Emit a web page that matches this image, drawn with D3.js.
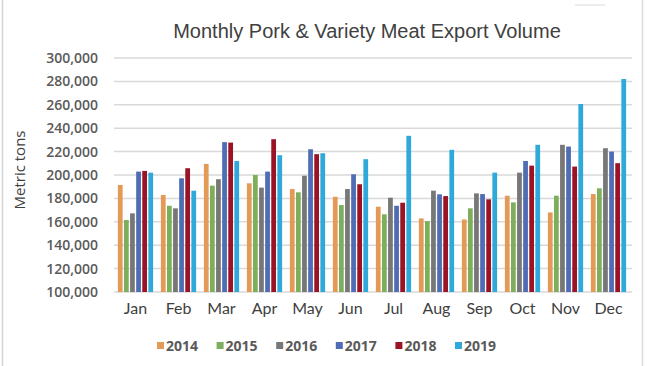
<!DOCTYPE html>
<html>
<head>
<meta charset="utf-8">
<script src="https://cdn.jsdelivr.net/npm/d3@7"></script>
<style>
  html, body { margin: 0; padding: 0; background: #fff; }
  svg { display: block; }
</style>
</head>
<body>
<svg id="chart" width="650" height="366"></svg>
<script>
const months = ["Jan","Feb","Mar","Apr","May","Jun","Jul","Aug","Sep","Oct","Nov","Dec"];
const years = ["2014","2015","2016","2017","2018","2019"];
const colors = ["#E39A57","#7DAE5C","#777777","#4F6DB4","#9A1426","#2FA9D9"];
const yTicks = [100000,120000,140000,160000,180000,200000,220000,240000,260000,280000,300000];

const v2014 = [191500,182900,209500,192900,188000,181400,172900,162900,162000,182300,168000,183700];
const v2015 = [161500,173700,190900,200000,185200,174300,166400,160600,171500,176600,182300,188600];
const v2016 = [167200,171500,196400,189200,199400,188000,180600,186600,184300,202000,225800,222900];
const v2017 = [202900,197200,228100,202900,222000,200600,173700,183500,183700,212000,224300,220000];
const v2018 = [203500,205800,227700,230600,217800,192100,176300,182000,179200,208000,207200,210100];
const v2019 = [202000,186600,212000,216900,218600,213500,233500,221500,202000,225800,260700,282100];
const series = [v2014, v2015, v2016, v2017, v2018, v2019];

const svg = d3.select("#chart");

// frame lines
svg.append("line").attr("x1",2.5).attr("x2",2.5).attr("y1",0).attr("y2",366)
  .attr("stroke","#d4d4d4").attr("stroke-width",1.5);
svg.append("line").attr("x1",642.5).attr("x2",642.5).attr("y1",0).attr("y2",366)
  .attr("stroke","#dcdcdc").attr("stroke-width",1.5);
svg.append("line").attr("x1",575).attr("x2",605).attr("y1",5).attr("y2",5)
  .attr("stroke","#e6e6e6").attr("stroke-width",1.5);

const x = d3.scaleBand().domain(months).range([114, 630]).paddingInner(0.18).paddingOuter(0.09);
const xi = d3.scaleBand().domain(years).range([0, x.bandwidth()]).paddingInner(0.22);
const y = d3.scaleLinear().domain([100000, 300000]).range([292, 58]);

// gridlines
svg.append("g").selectAll("line").data(yTicks).join("line")
  .attr("x1",114).attr("x2",632)
  .attr("y1",d=>y(d)).attr("y2",d=>y(d))
  .attr("stroke","#d9d9d9").attr("stroke-width",1.5);

// y axis labels
const yAxis = d3.axisLeft(y).tickValues(yTicks).tickSize(0).tickPadding(0)
  .tickFormat(d3.format(","));
const yg = svg.append("g").attr("transform","translate(98,0)").call(yAxis);
yg.select(".domain").remove();
yg.selectAll("text").attr("font-family","'Open Sans', sans-serif").attr("font-size","14px")
  .attr("font-weight","600").attr("fill","#5a5a5a");

// bars
const groups = svg.append("g").selectAll("g").data(months).join("g")
  .attr("transform", d => `translate(${x(d)},0)`);
groups.selectAll("rect").data((m,i) => years.map((yr,j) => ({yr, j, v: series[j][i]})))
  .join("rect")
  .attr("x", d => xi(d.yr))
  .attr("width", xi.bandwidth())
  .attr("y", d => y(d.v))
  .attr("height", d => y(100000) - y(d.v))
  .attr("fill", d => colors[d.j]);

// x axis labels
const xAxis = d3.axisBottom(x).tickSize(0).tickPadding(0);
const xg = svg.append("g").attr("transform","translate(0,303)").call(xAxis);
xg.select(".domain").remove();
xg.selectAll("text").attr("font-family","Lato, sans-serif").attr("font-size","16px")
  .attr("fill","#404040").attr("dy","0.71em");

// title
svg.append("text").attr("x",367).attr("y",38).attr("text-anchor","middle")
  .attr("font-family","'Liberation Sans', Arial, sans-serif").attr("font-size","20px")
  .attr("fill","#404040").text("Monthly Pork & Variety Meat Export Volume");

// y title
svg.append("text").attr("transform","translate(25,170) rotate(-90)")
  .attr("text-anchor","middle").attr("font-family","'Open Sans', sans-serif")
  .attr("font-size","15px").attr("fill","#404040").text("Metric tons");

// legend
const lx = d3.scalePoint().domain(years).range([157, 455]);
const lg = svg.append("g").selectAll("g").data(years).join("g")
  .attr("transform", d => `translate(${lx(d)},346)`);
lg.append("rect").attr("x",0).attr("y",-4).attr("width",7).attr("height",7)
  .attr("fill",(d,i)=>colors[i]);
lg.append("text").attr("x",9).attr("y",0).attr("dy","0.36em")
  .attr("font-family","'Open Sans', sans-serif").attr("font-size","14px").attr("font-weight","700")
  .attr("fill","#5a5a5a").text(d=>d);
</script>
</body>
</html>
